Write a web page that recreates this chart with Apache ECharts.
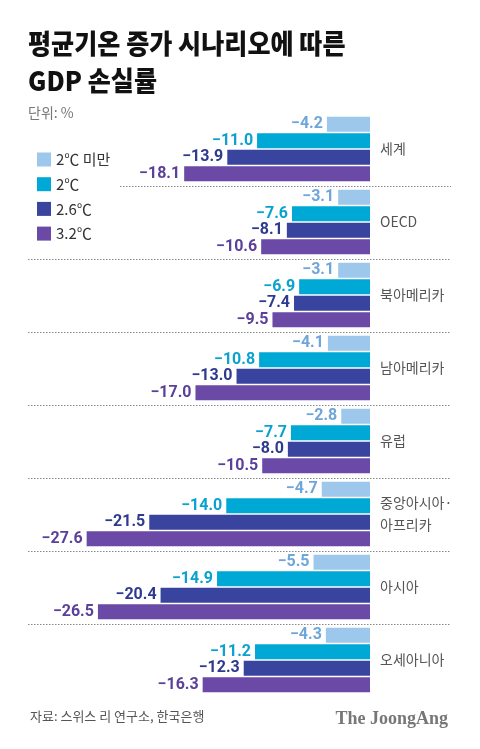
<!DOCTYPE html>
<html><head><meta charset="utf-8">
<script src="https://cdn.jsdelivr.net/npm/echarts@6/dist/echarts.min.js"></script>
<style>html,body{margin:0;padding:0;background:#fff}#c{width:480px;height:749px}</style>
</head><body><div id="c"></div>
<script>
const categories = ['세계','OECD','북아메리카','남아메리카','유럽','중앙아시아·\n아프리카','아시아','오세아니아'];
const seriesNames = ['2℃ 미만','2℃','2.6℃','3.2℃'];
const below2 = [-4.2,-3.1,-3.1,-4.1,-2.8,-4.7,-5.5,-4.3];
const deg2   = [-11.0,-7.6,-6.9,-10.8,-7.7,-14.0,-14.9,-11.2];
const deg26  = [-13.9,-8.1,-7.4,-13.0,-8.0,-21.5,-20.4,-12.3];
const deg32  = [-18.1,-10.6,-9.5,-17.0,-10.5,-27.6,-26.5,-16.3];
const titleText = '평균기온 증가 시나리오에 따른\nGDP 손실률';
const unitText = '단위: %';
const sourceText = '자료: 스위스 리 연구소, 한국은행';
const brandText = 'The JoongAng';

const barColors = ['#9dc8ec','#00a8d6','#38449e','#6a4aa6'];
const labelColors = ['#6fa6da','#0aa2cf','#2e3a8e','#5b3f99'];
const FONT = '"Noto Sans CJK KR", "Noto Sans", sans-serif';
const allData = [below2, deg2, deg26, deg32];

const chart = echarts.init(document.getElementById('c'), null, {renderer:'canvas'});
const option = {
  backgroundColor:'#fff',
  animation:false,
  legend:{
    orient:'vertical', left:32, top:147, itemWidth:14, itemHeight:14, itemGap:9.7,
    icon:'rect', selectedMode:false,
    textStyle:{fontSize:15, color:'#333', fontFamily:FONT},
    data:seriesNames
  },
  grid:{left:62, right:110, top:112.5, bottom:52.5, containLabel:false},
  xAxis:{type:'value', min:-30, max:0, show:false},
  yAxis:{
    type:'category', inverse:true, position:'right', data:categories,
    axisLine:{show:false}, axisTick:{show:false}, splitLine:{show:false},
    axisLabel:{margin:10, fontSize:14, color:'#555', fontFamily:FONT, lineHeight:22, align:'left'}
  },
  series: seriesNames.map((n,i)=>({
    name:n, type:'bar', data:allData[i], barWidth:15, barGap:'10%',
    itemStyle:{color:barColors[i]},
    label:{show:true, position:'left', distance:4, color:labelColors[i],
      fontSize:16, fontWeight:'bold', fontFamily:'Roboto, "Liberation Sans", sans-serif',
      formatter:p=>'\u2212'+Math.abs(p.value).toFixed(1)}
  }))
};
chart.setOption(option);

// separators between category bands, derived from the axis
const centers = categories.map((c,i)=>chart.convertToPixel({yAxisIndex:0}, i));
const graphics = [
  {type:'text', id:'title', left:28, top:25, scaleX:0.93,
    style:{text:titleText, font:'900 27px '+FONT, fill:'#111', lineHeight:37}},
  {type:'text', id:'unit', left:28, top:106,
    style:{text:unitText, font:'14px '+FONT, fill:'#777'}},
  {type:'text', id:'src', left:30, top:710,
    style:{text:sourceText, font:'13px '+FONT, fill:'#555'}},
  {type:'text', id:'brand', right:32, top:710,
    style:{text:brandText, font:'bold 18px "Liberation Serif", "DejaVu Serif", serif', fill:'#777'}}
];
for (let i=0;i<centers.length-1;i++){
  const y = Math.round((centers[i]+centers[i+1])/2)+0.5;
  graphics.push({type:'line', id:'sep'+i, silent:true,
    shape:{x1: i===0?120:28, y1:y, x2:451, y2:y},
    style:{stroke:'#888', lineWidth:1, lineDash:[1.5,1.5]}});
}
chart.setOption({graphic:graphics});
</script></body></html>
